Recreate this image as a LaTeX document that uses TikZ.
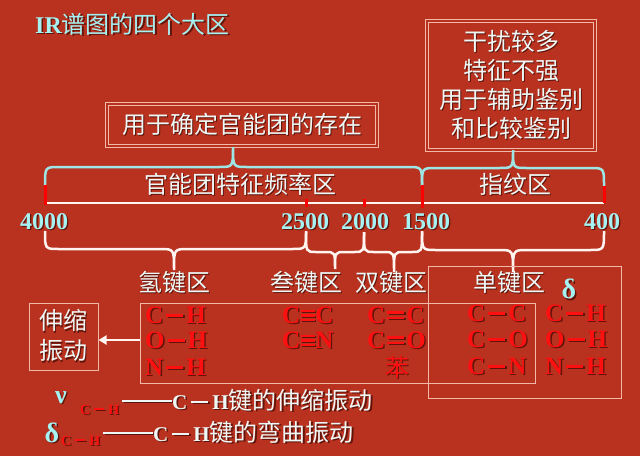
\documentclass[tikz,border=0pt]{standalone}
\usepackage{fontspec}
\setmainfont{Liberation Serif}
\newfontfamily\cjk{Noto Sans CJK SC}
\usetikzlibrary{arrows.meta}
\definecolor{bg}{HTML}{B8321F}
\definecolor{cyantxt}{HTML}{A6F2F2}
\definecolor{paletxt}{HTML}{EEF8F6}
\definecolor{boxline}{HTML}{F2B8A8}
\definecolor{bracecyan}{HTML}{9EE6E6}
\definecolor{bracewhite}{HTML}{FFF4F0}
\definecolor{redc}{HTML}{FF1010}
\definecolor{shadowc}{HTML}{5E140A}
\newcommand\fs[1]{\fontsize{#1}{#1}\selectfont}
\newcommand\shd[1]{\rlap{\hspace{1.3pt}\raisebox{-1.3pt}{\color{shadowc}#1}}#1}
\newcommand\bnd[4]{\hspace{#4}\rule[#2]{#1}{#3}\hspace{#4}}
\newcommand\bsingle{\bnd{17pt}{7pt}{2.6pt}{3pt}}
\newcommand\bdouble{\hspace{2pt}\rlap{\rule[4.5pt]{17pt}{2.4pt}}\rule[10pt]{17pt}{2.4pt}\hspace{2pt}}
\newcommand\btriple{\hspace{0.5pt}\rlap{\rule[2.5pt]{14pt}{2.1pt}}\rlap{\rule[7pt]{14pt}{2.1pt}}\rule[11.5pt]{14pt}{2.1pt}\hspace{0.5pt}}
% style, x1, x2, xtip, yend, ymid, ytip, radius
\newcommand\hbrace[8]{%
 \draw[#1] (#2,#5) .. controls (#2,#6) .. ({#2+#8},#6) -- ({#4-#8},#6)
   .. controls (#4,#6) .. (#4,#7) .. controls (#4,#6) .. ({#4+#8},#6)
   -- ({#3-#8},#6) .. controls (#3,#6) .. (#3,#5);}
\tikzset{
 dbl/.style={draw=boxline, double=bg, double distance=1.6pt, line width=1pt, text=paletxt, inner sep=0pt},
 sbx/.style={draw=boxline, line width=1pt, inner sep=0pt},
 lab/.style={text=paletxt, font=\cjk\fs{24}, inner sep=0pt},
 num/.style={text=cyantxt, font=\bfseries\fs{24}, inner sep=0pt},
 redf/.style={text=redc, font=\bfseries\fs{25}, anchor=west, inner sep=0pt},
 topbrace/.style={bracecyan, line width=2.5pt},
 lowbrace/.style={bracewhite, line width=2.5pt},
 tick/.style={red, line width=3pt},
 arr/.style={bracewhite, line width=2.5pt, -{Triangle[length=8pt,width=9pt]}}
}
\begin{document}
\begin{tikzpicture}[x=1pt,y=-1pt]
\fill[bg] (0,0) rectangle (640,456);
\useasboundingbox (0,0) rectangle (640,456);

% title
\node[anchor=base west, inner sep=0pt, text=cyantxt] (title) at (35,33)
  {\shd{{\bfseries\fs{24}IR}{\cjk\fs{24}谱图的四个大区}}};

% top boxes
\node[dbl, minimum width=270pt, minimum height=42pt, font=\cjk\fs{24}] (tbox) at (242,125) {\shd{用于确定官能团的存在}};
\node[dbl, minimum width=168pt, minimum height=129pt, align=center, font=\cjk\fontsize{24}{29}\selectfont] (rbox) at (511,85.5)
  {\shd{干扰较多}\\\shd{特征不强}\\\shd{用于辅助鉴别}\\\shd{和比较鉴别}};

% top braces
\hbrace{topbrace}{45}{422}{233}{186}{167}{147}{14}
\hbrace{topbrace}{422}{604}{513}{186}{168}{150}{14}

% region labels above axis
\node[lab] (gfl) at (240,185) {\shd{官能团特征频率区}};
\node[lab] (zwq) at (515,185) {\shd{指纹区}};

% axis
\draw[bracewhite, line width=2.5pt] (45,203) -- (604,203);
\draw[tick] (45,185) -- (45,205);
\draw[tick] (306,199) -- (306,207);
\draw[tick] (364,199) -- (364,207);
\draw[tick] (422,185) -- (422,208);
\draw[tick] (604,186) -- (604,203);

% numbers
\node[num] (n4000) at (44,222) {\shd{4000}};
\node[num] (n2500) at (305,222) {\shd{2500}};
\node[num] (n2000) at (365,222) {\shd{2000}};
\node[num] (n1500) at (426,222) {\shd{1500}};
\node[num] (n400) at (602,222) {\shd{400}};

% lower braces
\hbrace{lowbrace}{45}{306}{174}{231}{249}{270}{14}
\hbrace{lowbrace}{306}{364}{335}{232}{252}{269}{10}
\hbrace{lowbrace}{364}{422}{394}{232}{252}{272}{10}
\hbrace{lowbrace}{422}{604}{513}{231}{250}{272}{14}

% region labels below
\node[lab] (qjq) at (174,283) {\shd{氢键区}};
\node[lab] (sjq) at (306,283) {\shd{叁键区}};
\node[lab] (shjq) at (391,283) {\shd{双键区}};
\node[lab] (djq) at (509,283) {\shd{单键区}};
\node[text=cyantxt, font=\bfseries\fs{28}, inner sep=0pt] (delta1) at (569,290) {\shd{δ}};

% boxes around formulas
\node[sbx, minimum width=395pt, minimum height=80pt] (sbox) at (337.5,343) {};
\node[sbx, minimum width=193pt, minimum height=132pt] (dbox) at (524.5,332) {};
\node[sbx, minimum width=69pt, minimum height=67pt, align=center, text=paletxt, font=\cjk\fontsize{24}{30}\selectfont] (vbox) at (63.5,336.5) {\shd{伸缩}\\\shd{振动}};
\draw[arr] (sbox.west |- 0,340) -- (vbox.east |- 0,340);

% formulas
\node[redf] (f1) at (145,316) {\shd{C\bsingle H}};
\node[redf] (f2) at (145,341) {\shd{O\bsingle H}};
\node[redf] (f3) at (145,368) {\shd{N\bsingle H}};
\node[redf] (f4) at (282,316) {\shd{C\btriple C}};
\node[redf] (f5) at (282,341) {\shd{C\btriple N}};
\node[redf] (f6) at (367,316) {\shd{C\bdouble C}};
\node[redf] (f7) at (367,341) {\shd{C\bdouble O}};
\node[text=redc, font=\cjk\fs{24}, inner sep=0pt] (f8) at (397,368) {\shd{苯}};
\node[redf] (f9) at (467,314) {\shd{C\bsingle C}};
\node[redf] (f10) at (467,340) {\shd{C\bsingle O}};
\node[redf] (f11) at (467,367) {\shd{C\bsingle N}};
\node[redf] (f12) at (545,314) {\shd{C\bsingle H}};
\node[redf] (f13) at (545,340) {\shd{O\bsingle H}};
\node[redf] (f14) at (545,367) {\shd{N\bsingle H}};

% legend lines
\node[anchor=base, text=cyantxt, font=\bfseries\fs{26}, inner sep=0pt] (nu) at (61,403) {\shd{ν}};
\node[anchor=base west, text=redc, font=\bfseries\fs{14}, inner sep=0pt] (sub1) at (80,414) {\shd{C\bnd{10pt}{4pt}{1.6pt}{4pt}H}};
\node[anchor=base west, text=paletxt, inner sep=0pt] (txt1) at (122,409)
  {\shd{\rule[7pt]{50pt}{2pt}{\bfseries\fs{21}C\bnd{17pt}{6.5pt}{2pt}{4pt}H}{\cjk\fs{24}键的伸缩振动}}};
\node[anchor=base, text=cyantxt, font=\bfseries\fs{28}, inner sep=0pt] (dl) at (52,442) {\shd{δ}};
\node[anchor=base west, text=redc, font=\bfseries\fs{14}, inner sep=0pt] (sub2) at (61,445) {\shd{C\bnd{10pt}{4pt}{1.6pt}{4pt}H}};
\node[anchor=base west, text=paletxt, inner sep=0pt] (txt2) at (103,441)
  {\shd{\rule[7pt]{50pt}{2pt}{\bfseries\fs{21}C\bnd{17pt}{6.5pt}{2pt}{4pt}H}{\cjk\fs{24}键的弯曲振动}}};
\end{tikzpicture}
\end{document}
